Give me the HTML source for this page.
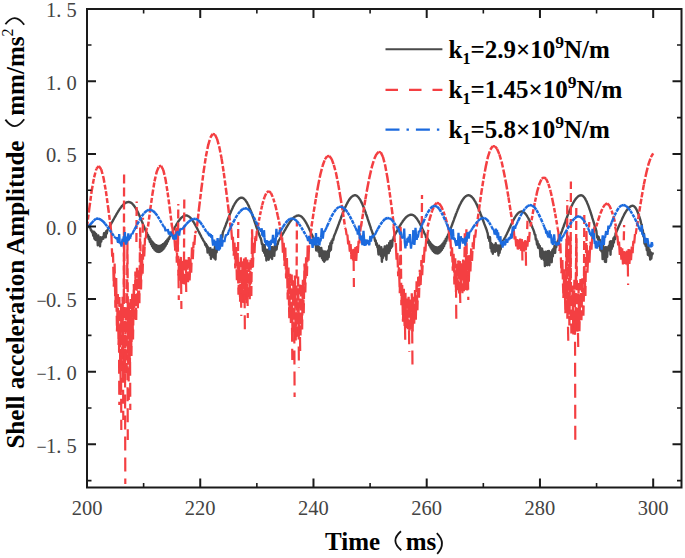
<!DOCTYPE html>
<html><head><meta charset="utf-8">
<style>
html,body{margin:0;padding:0;background:#fff;}
body{width:685px;height:558px;overflow:hidden;}
svg{display:block;}
.tk{font-family:"Liberation Serif",serif;font-size:20.5px;fill:#444;}
.tt{font-family:"Liberation Serif",serif;font-weight:bold;font-size:25px;fill:#000;}
.lg{font-family:"Liberation Serif",serif;font-weight:bold;font-size:25px;fill:#000;}
</style></head>
<body>
<svg width="685" height="558" viewBox="0 0 685 558">
<rect width="685" height="558" fill="#fff"/>
<svg x="0" y="0" width="685" height="558"><clipPath id="cp"><rect x="87" y="9" width="594.5" height="478.5"/></clipPath><g clip-path="url(#cp)"><g fill="none" stroke-linejoin="round">
<path d="M87 226.5 L87.6 226.6 L88.1 226.7 L88.7 227 L89.3 227.3 L89.8 227.7 L90.4 228.3 L91 230.4 L91.5 230.3 L92.1 232.2 L92.7 231.6 L93.2 235.7 L93.8 231.6 L94.4 238.7 L94.9 232.8 L95.5 240 L96.1 233.9 L96.6 238.9 L97.2 236.2 L97.8 245.3 L98.3 235.4 L98.9 241 L99.5 237.6 L100 246.4 L100.6 237.2 L101.2 241.6 L101.7 238.3 L102.3 238.3 L102.8 236.9 L103.4 238.7 L104 233.3 L104.5 236.1 L105.1 232.7 L105.7 237.4 L106.2 231.1 L106.8 233.5 L107.4 230.2 L107.9 229.3 L108.5 228.1 L109.1 227.2 L109.6 226.3 L110.2 225.3 L110.8 224.4 L111.3 223.4 L111.9 222.4 L112.5 221.4 L113 220.4 L113.6 219.4 L114.2 218.3 L114.7 217.3 L115.3 216.3 L115.9 215.3 L116.4 214.3 L117 213.3 L117.6 212.4 L118.1 211.5 L118.7 210.6 L119.3 209.7 L119.8 208.9 L120.4 208.1 L121 207.3 L121.5 206.6 L122.1 205.9 L122.7 205.3 L123.2 204.7 L123.8 204.2 L124.4 203.7 L124.9 203.3 L125.5 202.9 L126.1 202.6 L126.6 202.4 L127.2 202.2 L127.8 202.1 L128.3 202 L128.9 202 L129.5 202.1 L130 202.3 L130.6 202.5 L131.1 202.8 L131.7 203.2 L132.3 203.7 L132.8 204.3 L133.4 204.9 L134 205.7 L134.5 206.4 L135.1 207.3 L135.7 208.2 L136.2 209.2 L136.8 210.2 L137.4 211.3 L137.9 212.4 L138.5 213.6 L139.1 214.8 L139.6 216.1 L140.2 217.4 L140.8 218.7 L141.3 220.1 L141.9 221.5 L142.5 222.8 L143 224.2 L143.6 225.6 L144.2 227 L144.7 228.4 L145.3 229.8 L145.9 231.2 L146.4 233 L147 232.9 L147.6 236.3 L148.1 235 L148.7 239.2 L149.3 237 L149.8 241.8 L150.4 238.9 L151 244.2 L151.5 240.6 L152.1 246.3 L152.7 242.2 L153.2 248.1 L153.8 243.5 L154.4 249.6 L154.9 244.5 L155.5 250.7 L156.1 245.3 L156.6 251.5 L157.2 245.8 L157.8 251.9 L158.3 246 L158.9 252 L159.4 245.9 L160 251.7 L160.6 245.6 L161.1 251.1 L161.7 245.1 L162.3 250.2 L162.8 244.3 L163.4 249 L164 243.4 L164.5 247.5 L165.1 242.2 L165.7 245.7 L166.2 241 L166.8 243.8 L167.4 239.5 L167.9 241.5 L168.5 238.1 L169.1 239 L169.6 236.7 L170.2 236.1 L170.8 235.1 L171.3 234 L171.9 232.9 L172.5 231.8 L173 230.8 L173.6 229.7 L174.2 228.6 L174.7 227.6 L175.3 226.5 L175.9 225.5 L176.4 224.6 L177 223.6 L177.6 222.7 L178.1 221.8 L178.7 221 L179.3 220.2 L179.8 219.5 L180.4 218.8 L181 218.2 L181.5 217.6 L182.1 217.1 L182.7 216.7 L183.2 216.3 L183.8 216 L184.4 215.8 L184.9 215.6 L185.5 215.5 L186.1 215.5 L186.6 215.5 L187.2 215.7 L187.7 215.9 L188.3 216.2 L188.9 216.5 L189.4 216.9 L190 217.4 L190.6 218 L191.1 218.6 L191.7 219.3 L192.3 220.1 L192.8 220.9 L193.4 221.8 L194 222.7 L194.5 223.6 L195.1 224.6 L195.7 225.7 L196.2 226.7 L196.8 227.8 L197.4 228.9 L197.9 230 L198.5 231.2 L199.1 232.3 L199.6 233.4 L200.2 234.5 L200.8 235.6 L201.3 236.7 L201.9 237.8 L202.5 238.8 L203 239.8 L203.6 240.8 L204.2 241.7 L204.7 242.6 L205.3 245 L205.9 243.8 L206.4 246.9 L207 245.3 L207.6 252.6 L208.1 247.2 L208.7 252.3 L209.3 248.8 L209.8 254.9 L210.4 248.1 L211 258.9 L211.5 250.4 L212.1 254.3 L212.7 249.6 L213.2 256.9 L213.8 250.8 L214.4 258.3 L214.9 246.7 L215.5 259.5 L216 244.6 L216.6 252.4 L217.2 246.4 L217.7 247.9 L218.3 243.1 L218.9 244.6 L219.4 241.6 L220 246.5 L220.6 238.7 L221.1 242.8 L221.7 235.2 L222.3 237 L222.8 232.6 L223.4 231 L224 229.6 L224.5 228.1 L225.1 226.7 L225.7 225.2 L226.2 223.7 L226.8 222.2 L227.4 220.7 L227.9 219.2 L228.5 217.7 L229.1 216.3 L229.6 214.8 L230.2 213.4 L230.8 212.1 L231.3 210.7 L231.9 209.5 L232.5 208.2 L233 207 L233.6 205.9 L234.2 204.8 L234.7 203.8 L235.3 202.9 L235.9 202 L236.4 201.2 L237 200.5 L237.6 199.8 L238.1 199.3 L238.7 198.8 L239.3 198.4 L239.8 198.1 L240.4 197.9 L241 197.7 L241.5 197.7 L242.1 197.8 L242.7 197.9 L243.2 198.2 L243.8 198.6 L244.3 199.1 L244.9 199.6 L245.5 200.3 L246 201.1 L246.6 202 L247.2 202.9 L247.7 204 L248.3 205.1 L248.9 206.3 L249.4 207.6 L250 209 L250.6 210.4 L251.1 211.8 L251.7 213.3 L252.3 214.9 L252.8 216.5 L253.4 218.1 L254 219.7 L254.5 221.4 L255.1 223.1 L255.7 224.7 L256.2 226.4 L256.8 228 L257.4 229.7 L257.9 231.3 L258.5 232.8 L259.1 234.3 L259.6 235.8 L260.2 237.3 L260.8 238.6 L261.3 240.3 L261.9 244.1 L262.5 243.8 L263 250.8 L263.6 245.2 L264.2 252.8 L264.7 245.3 L265.3 255.9 L265.9 249.4 L266.4 260.5 L267 251.4 L267.6 255.4 L268.1 249.6 L268.7 259.7 L269.3 247.7 L269.8 257.6 L270.4 248.3 L271 253.8 L271.5 247.3 L272.1 259 L272.6 247.1 L273.2 253 L273.8 247.4 L274.3 255.9 L274.9 245 L275.5 250.4 L276 245.3 L276.6 249.3 L277.2 244 L277.7 244.2 L278.3 241.3 L278.9 240.5 L279.4 239.6 L280 238.7 L280.6 237.7 L281.1 236.7 L281.7 235.8 L282.3 234.8 L282.8 233.8 L283.4 232.8 L284 231.8 L284.5 230.8 L285.1 229.8 L285.7 228.8 L286.2 227.8 L286.8 226.8 L287.4 225.9 L287.9 225 L288.5 224.1 L289.1 223.2 L289.6 222.4 L290.2 221.6 L290.8 220.8 L291.3 220.1 L291.9 219.5 L292.5 218.8 L293 218.3 L293.6 217.7 L294.2 217.2 L294.7 216.8 L295.3 216.5 L295.9 216.2 L296.4 215.9 L297 215.7 L297.6 215.6 L298.1 215.5 L298.7 215.5 L299.2 215.6 L299.8 215.7 L300.4 216 L300.9 216.3 L301.5 216.7 L302.1 217.2 L302.6 217.8 L303.2 218.4 L303.8 219.2 L304.3 219.9 L304.9 220.8 L305.5 221.7 L306 222.7 L306.6 223.7 L307.2 224.8 L307.7 225.9 L308.3 227 L308.9 228.2 L309.4 229.4 L310 230.6 L310.6 231.8 L311.1 233 L311.7 234.3 L312.3 235.5 L312.8 236.7 L313.4 237.9 L314 239 L314.5 240.2 L315.1 244.3 L315.7 242.6 L316.2 250.5 L316.8 246.8 L317.4 249.2 L317.9 245.6 L318.5 252 L319.1 247.3 L319.6 256.2 L320.2 250.3 L320.8 255.7 L321.3 248 L321.9 258.3 L322.5 250.6 L323 260.3 L323.6 254.2 L324.2 261.7 L324.7 251.4 L325.3 260.4 L325.9 251.7 L326.4 253.7 L327 252 L327.5 259.3 L328.1 250.4 L328.7 257.2 L329.2 246.3 L329.8 251.2 L330.4 243.2 L330.9 249.8 L331.5 241.1 L332.1 243.1 L332.6 239.3 L333.2 239.9 L333.8 236.9 L334.3 235.5 L334.9 234.1 L335.5 232.7 L336 231.3 L336.6 229.8 L337.2 228.3 L337.7 226.8 L338.3 225.2 L338.9 223.7 L339.4 222.1 L340 220.6 L340.6 219.1 L341.1 217.5 L341.7 216 L342.3 214.5 L342.8 213.1 L343.4 211.7 L344 210.3 L344.5 208.9 L345.1 207.6 L345.7 206.3 L346.2 205.1 L346.8 204 L347.4 202.9 L347.9 201.8 L348.5 200.9 L349.1 200 L349.6 199.1 L350.2 198.4 L350.8 197.7 L351.3 197.1 L351.9 196.6 L352.5 196.2 L353 195.8 L353.6 195.6 L354.2 195.4 L354.7 195.3 L355.3 195.3 L355.8 195.4 L356.4 195.6 L357 196 L357.5 196.4 L358.1 197 L358.7 197.6 L359.2 198.4 L359.8 199.2 L360.4 200.2 L360.9 201.2 L361.5 202.4 L362.1 203.6 L362.6 204.8 L363.2 206.2 L363.8 207.6 L364.3 209.1 L364.9 210.6 L365.5 212.2 L366 213.8 L366.6 215.5 L367.2 217.2 L367.7 218.9 L368.3 220.6 L368.9 222.3 L369.4 224 L370 225.7 L370.6 227.4 L371.1 229.1 L371.7 230.7 L372.3 232.3 L372.8 233.8 L373.4 235.3 L374 236.8 L374.5 237.9 L375.1 241.1 L375.7 240.4 L376.2 244.9 L376.8 243.3 L377.4 247.2 L377.9 247.6 L378.5 254.5 L379.1 245.7 L379.6 253.3 L380.2 247.8 L380.8 255.8 L381.3 247.1 L381.9 261.8 L382.5 252.7 L383 257.9 L383.6 249.3 L384.1 253.4 L384.7 246.5 L385.3 255.7 L385.8 246.9 L386.4 259.8 L387 245.4 L387.5 250 L388.1 248.7 L388.7 253.1 L389.2 243 L389.8 250.9 L390.4 241 L390.9 248 L391.5 243 L392.1 246.5 L392.6 239.7 L393.2 239.9 L393.8 236.8 L394.3 235.7 L394.9 234.7 L395.5 233.7 L396 232.7 L396.6 231.7 L397.2 230.7 L397.7 229.7 L398.3 228.7 L398.9 227.7 L399.4 226.7 L400 225.7 L400.6 224.7 L401.1 223.8 L401.7 222.9 L402.3 222.1 L402.8 221.2 L403.4 220.4 L404 219.7 L404.5 219 L405.1 218.3 L405.7 217.7 L406.2 217.2 L406.8 216.6 L407.4 216.2 L407.9 215.8 L408.5 215.5 L409.1 215.2 L409.6 215 L410.2 214.8 L410.8 214.7 L411.3 214.7 L411.9 214.7 L412.4 214.9 L413 215.1 L413.6 215.4 L414.1 215.8 L414.7 216.2 L415.3 216.8 L415.8 217.4 L416.4 218.1 L417 218.8 L417.5 219.7 L418.1 220.6 L418.7 221.5 L419.2 222.5 L419.8 223.5 L420.4 224.6 L420.9 225.8 L421.5 226.9 L422.1 228.1 L422.6 229.3 L423.2 230.5 L423.8 231.8 L424.3 233 L424.9 234.2 L425.5 234.9 L426 237.6 L426.6 236.7 L427.2 240.4 L427.7 238.6 L428.3 243.1 L428.9 240.4 L429.4 245.5 L430 242.1 L430.6 247.6 L431.1 243.6 L431.7 249.4 L432.3 244.9 L432.8 250.9 L433.4 246 L434 252.1 L434.5 246.8 L435.1 253 L435.7 247.3 L436.2 253.4 L436.8 247.5 L437.4 253.5 L437.9 247.4 L438.5 253.2 L439.1 247 L439.6 252.5 L440.2 246.3 L440.7 251.4 L441.3 245.3 L441.9 249.9 L442.4 244 L443 248.1 L443.6 242.4 L444.1 246 L444.7 240.7 L445.3 243.5 L445.8 238.7 L446.4 240.8 L447 236.6 L447.5 237.7 L448.1 234.4 L448.7 234.3 L449.2 232.4 L449.8 230.9 L450.4 229.4 L450.9 227.9 L451.5 226.3 L452.1 224.8 L452.6 223.2 L453.2 221.7 L453.8 220.1 L454.3 218.6 L454.9 217 L455.5 215.5 L456 214 L456.6 212.6 L457.2 211.1 L457.7 209.7 L458.3 208.4 L458.9 207.1 L459.4 205.8 L460 204.6 L460.6 203.5 L461.1 202.4 L461.7 201.4 L462.3 200.5 L462.8 199.6 L463.4 198.8 L464 198.1 L464.5 197.4 L465.1 196.9 L465.7 196.4 L466.2 196 L466.8 195.7 L467.4 195.5 L467.9 195.3 L468.5 195.3 L469 195.3 L469.6 195.5 L470.2 195.7 L470.7 196 L471.3 196.5 L471.9 197 L472.4 197.6 L473 198.2 L473.6 199 L474.1 199.8 L474.7 200.8 L475.3 201.7 L475.8 202.8 L476.4 203.9 L477 205.1 L477.5 206.4 L478.1 207.7 L478.7 209 L479.2 210.4 L479.8 211.8 L480.4 213.3 L480.9 214.8 L481.5 216.3 L482.1 217.8 L482.6 219.3 L483.2 220.8 L483.8 222.4 L484.3 223.9 L484.9 225.4 L485.5 226.9 L486 228.3 L486.6 229.7 L487.2 231.9 L487.7 233.4 L488.3 238.1 L488.9 236.7 L489.4 241.1 L490 237.3 L490.6 248.1 L491.1 242.9 L491.7 251.6 L492.3 244.1 L492.8 253.8 L493.4 245.4 L494 249.7 L494.5 245.3 L495.1 251.9 L495.7 243.3 L496.2 249.1 L496.8 245.1 L497.3 251 L497.9 247.1 L498.5 255.5 L499 245.4 L499.6 252.9 L500.2 246.2 L500.7 249.5 L501.3 243.1 L501.9 243 L502.4 241.5 L503 240.8 L503.6 239.9 L504.1 239 L504.7 238 L505.3 237 L505.8 235.9 L506.4 234.8 L507 233.6 L507.5 232.5 L508.1 231.3 L508.7 230.1 L509.2 228.8 L509.8 227.6 L510.4 226.4 L510.9 225.1 L511.5 223.9 L512.1 222.8 L512.6 221.6 L513.2 220.5 L513.8 219.4 L514.3 218.4 L514.9 217.5 L515.5 216.5 L516 215.7 L516.6 214.9 L517.2 214.2 L517.7 213.6 L518.3 213 L518.9 212.6 L519.4 212.2 L520 211.9 L520.6 211.7 L521.1 211.5 L521.7 211.5 L522.3 211.6 L522.8 211.7 L523.4 212 L524 212.4 L524.5 212.8 L525.1 213.4 L525.6 214 L526.2 214.8 L526.8 215.6 L527.3 216.5 L527.9 217.5 L528.5 218.5 L529 219.7 L529.6 220.8 L530.2 222.1 L530.7 223.4 L531.3 224.7 L531.9 226.1 L532.4 227.5 L533 228.9 L533.6 230.4 L534.1 231.8 L534.7 234.5 L535.3 234.7 L535.8 239.7 L536.4 239.1 L537 244.6 L537.5 241.1 L538.1 247.7 L538.7 244.2 L539.2 248.4 L539.8 245.8 L540.4 256.8 L540.9 248.2 L541.5 258.7 L542.1 248.7 L542.6 257 L543.2 251.5 L543.8 259.9 L544.3 252.6 L544.9 266.1 L545.5 251.6 L546 262.5 L546.6 254.5 L547.2 265.2 L547.7 251.1 L548.3 260.5 L548.9 250.9 L549.4 265.3 L550 252.9 L550.6 258.8 L551.1 252.1 L551.7 262.3 L552.3 250.3 L552.8 256.4 L553.4 248.6 L553.9 252.8 L554.5 245.8 L555.1 252.8 L555.6 245.4 L556.2 247.3 L556.8 243.5 L557.3 242.3 L557.9 241 L558.5 239.7 L559 238.3 L559.6 237 L560.2 235.5 L560.7 234.1 L561.3 232.6 L561.9 231.1 L562.4 229.6 L563 228 L563.6 226.5 L564.1 225 L564.7 223.4 L565.3 221.9 L565.8 220.3 L566.4 218.8 L567 217.3 L567.5 215.8 L568.1 214.3 L568.7 212.9 L569.2 211.5 L569.8 210.1 L570.4 208.8 L570.9 207.5 L571.5 206.3 L572.1 205.1 L572.6 204 L573.2 202.9 L573.8 201.9 L574.3 201 L574.9 200.1 L575.5 199.3 L576 198.5 L576.6 197.9 L577.2 197.3 L577.7 196.7 L578.3 196.3 L578.9 195.9 L579.4 195.7 L580 195.5 L580.6 195.3 L581.1 195.3 L581.7 195.4 L582.2 195.6 L582.8 195.9 L583.4 196.4 L583.9 197 L584.5 197.7 L585.1 198.6 L585.6 199.6 L586.2 200.7 L586.8 201.9 L587.3 203.2 L587.9 204.6 L588.5 206.1 L589 207.6 L589.6 209.3 L590.2 210.9 L590.7 212.7 L591.3 214.5 L591.9 216.3 L592.4 218.1 L593 220 L593.6 221.9 L594.1 223.7 L594.7 225.6 L595.3 227.4 L595.8 229.2 L596.4 231.1 L597 237.5 L597.5 235.8 L598.1 239.6 L598.7 237.2 L599.2 244.1 L599.8 239.8 L600.4 250.1 L600.9 242.1 L601.5 251.5 L602.1 243.1 L602.6 259.1 L603.2 245.7 L603.8 255.7 L604.3 248 L604.9 261.7 L605.5 247.2 L606 262 L606.6 247.5 L607.2 256.9 L607.7 247.1 L608.3 249.9 L608.9 245.6 L609.4 250.4 L610 241.7 L610.5 254.8 L611.1 241.3 L611.7 249 L612.2 242.2 L612.8 246.5 L613.4 238.3 L613.9 242.6 L614.5 236.7 L615.1 239.2 L615.6 233.3 L616.2 232.2 L616.8 231 L617.3 229.7 L617.9 228.4 L618.5 227.1 L619 225.8 L619.6 224.5 L620.2 223.2 L620.7 221.9 L621.3 220.7 L621.9 219.4 L622.4 218.2 L623 217 L623.6 215.8 L624.1 214.7 L624.7 213.7 L625.3 212.7 L625.8 211.7 L626.4 210.8 L627 210 L627.5 209.2 L628.1 208.5 L628.7 207.9 L629.2 207.4 L629.8 206.9 L630.4 206.5 L630.9 206.2 L631.5 206 L632.1 205.9 L632.6 205.8 L633.2 205.9 L633.8 206.1 L634.3 206.5 L634.9 207.1 L635.5 207.8 L636 208.7 L636.6 209.8 L637.2 211 L637.7 212.3 L638.3 213.8 L638.8 215.3 L639.4 217 L640 218.8 L640.5 220.6 L641.1 223.6 L641.7 224.4 L642.2 229.6 L642.8 230.1 L643.4 236.5 L643.9 233.7 L644.5 243.7 L645.1 239.5 L645.6 245.8 L646.2 241.8 L646.8 250.2 L647.3 244.7 L647.9 254.9 L648.5 247.2 L649 255.6 L649.6 249.6 L650.2 259.6 L650.7 252.1 L651.3 258.6 L651.9 253.4 L652.4 254.2 L653 252.3" stroke="#4a4a4a" stroke-width="2.4"/>
<path d="M87 226.5L89.4 207.7M89.4 207.7L91.7 190.7M91.7 190.7L94.1 177.3M94.1 177.3L96.4 168.8M96.4 168.8L98.8 166M98.8 166L101.2 169.2M101.2 169.2L103.5 177.8M103.5 177.8L105.9 191.2M105.9 191.2L108.2 208M108.2 208L110.6 226.5" stroke="#f43f42" stroke-width="2.5" stroke-dasharray="5 2"/>
<path d="M148 226.5L150.2 209.8M150.2 209.8L152.4 194.4M152.4 194.4L154.5 181.4M154.5 181.4L156.7 171.9M156.7 171.9L158.9 166.5M158.9 166.5L161.1 165.7M161.1 165.7L163.3 170M163.3 170L165.5 179.2M165.5 179.2L167.6 192.5M167.6 192.5L169.8 208.7M169.8 208.7L172 226.5" stroke="#f43f42" stroke-width="2.5" stroke-dasharray="5 2"/>
<path d="M197 226.5L199.2 206.8M199.2 206.8L201.5 188M201.5 188L203.7 171M203.7 171L205.9 156.4M205.9 156.4L208.2 145.1M208.2 145.1L210.4 137.5M210.4 137.5L212.6 134M212.6 134L214.9 134.5M214.9 134.5L217.1 139M217.1 139L219.3 147.1M219.3 147.1L221.6 158.6M221.6 158.6L223.8 172.9M223.8 172.9L226 189.5M226 189.5L228.3 207.6M228.3 207.6L230.5 226.5" stroke="#f43f42" stroke-width="2.5" stroke-dasharray="5.5 2"/>
<path d="M257.8 226.5L260 215.1M260 215.1L262.2 205M262.2 205L264.5 197.1M264.5 197.1L266.7 192.3M266.7 192.3L268.9 191.1M268.9 191.1L271.1 193.2M271.1 193.2L273.3 198.5M273.3 198.5L275.6 206.3M275.6 206.3L277.8 215.9M277.8 215.9L280 226.5" stroke="#f43f42" stroke-width="2.5" stroke-dasharray="4 1.8"/>
<path d="M311.5 226.5L313.7 211.9M313.7 211.9L316 197.9M316 197.9L318.2 185.2M318.2 185.2L320.4 174.2M320.4 174.2L322.7 165.5M322.7 165.5L324.9 159.4M324.9 159.4L327.1 156.2M327.1 156.2L329.4 156M329.4 156L331.6 158.9M331.6 158.9L333.8 164.9M333.8 164.9L336.1 173.5M336.1 173.5L338.3 184.6M338.3 184.6L340.5 197.5M340.5 197.5L342.8 211.6M342.8 211.6L345 226.5" stroke="#f43f42" stroke-width="2.5" stroke-dasharray="5.5 2"/>
<path d="M361 226.5L363.2 212.6M363.2 212.6L365.4 199.2M365.4 199.2L367.6 186.7M367.6 186.7L369.8 175.7M369.8 175.7L372 166.4M372 166.4L374.2 159.1M374.2 159.1L376.4 154.3M376.4 154.3L378.6 151.9M378.6 151.9L380.8 152.4M380.8 152.4L383 157M383 157L385.2 165.5M385.2 165.5L387.4 177.5M387.4 177.5L389.6 192.2M389.6 192.2L391.8 208.8M391.8 208.8L394 226.5" stroke="#f43f42" stroke-width="2.5" stroke-dasharray="5.5 2"/>
<path d="M427.6 226.5L429.9 218.1M429.9 218.1L432.1 210.8M432.1 210.8L434.4 205.5M434.4 205.5L436.7 202.9M436.7 202.9L438.9 203.2M438.9 203.2L441.2 206.3M441.2 206.3L443.5 211.6M443.5 211.6L445.7 218.6M445.7 218.6L448 226.5" stroke="#f43f42" stroke-width="2.5" stroke-dasharray="4 1.8"/>
<path d="M476.7 226.5L479 209.7M479 209.7L481.2 193.6M481.2 193.6L483.5 179M483.5 179L485.8 166.5M485.8 166.5L488 156.6M488 156.6L490.3 149.7M490.3 149.7L492.6 146.2M492.6 146.2L494.9 146.2M494.9 146.2L497.1 148.9M497.1 148.9L499.4 154.3M499.4 154.3L501.7 162.1M501.7 162.1L503.9 172.2M503.9 172.2L506.2 184M506.2 184L508.5 197.4M508.5 197.4L510.7 211.7M510.7 211.7L513 226.5" stroke="#f43f42" stroke-width="2.5" stroke-dasharray="5.5 2"/>
<path d="M530.5 226.5L532.7 213.7M532.7 213.7L535 201.8M535 201.8L537.2 191.5M537.2 191.5L539.5 183.7M539.5 183.7L541.7 178.8M541.7 178.8L544 177.2M544 177.2L546.2 178.9M546.2 178.9L548.4 183.9M548.4 183.9L550.7 191.7M550.7 191.7L552.9 201.9M552.9 201.9L555.2 213.8M555.2 213.8L557.4 226.5" stroke="#f43f42" stroke-width="2.5" stroke-dasharray="4.5 1.8"/>
<path d="M596.3 226.5L598.5 219.2M598.5 219.2L600.7 212.7M600.7 212.7L602.9 207.6M602.9 207.6L605.1 204.4M605.1 204.4L607.2 203.5M607.2 203.5L609.4 205.5M609.4 205.5L611.6 210.6M611.6 210.6L613.8 217.9M613.8 217.9L616 226.5" stroke="#f43f42" stroke-width="2.5" stroke-dasharray="4 1.8"/>
<path d="M637 226.5L639.3 211.6M639.3 211.6L641.6 197.4M641.6 197.4L643.9 184.3M643.9 184.3L646.3 173M646.3 173L648.6 163.8M648.6 163.8L650.9 157.2M650.9 157.2L653.2 153.4" stroke="#f43f42" stroke-width="2.5" stroke-dasharray="5.5 2"/>
<path d="M110.6 225.8L111.4 234.3M111.4 234.3L111.9 248.7M111.9 248.7L112.2 256.7M112.2 256.7L113 252.7M113 252.7L113.4 271.2M113.4 271.2L113.8 286.7M113.8 286.7L114.1 276.7M114.1 276.7L114.6 263.6M114.6 263.6L115 286.2M115 286.2L115.4 307.7M115.4 307.7L115.6 300.2M115.6 300.2L116.2 278M116.2 278L116.3 287.7M116.3 287.7L117 331.4M117 331.4L117.7 299.6M117.7 299.6L117.8 293.9M117.8 293.9L118.1 315M118.1 315L118.6 345M118.6 345L118.8 334.2M118.8 334.2L119.4 296.9M119.4 296.9L119.9 335.1M119.9 335.1L120.2 361.3M120.2 361.3L120.8 320.7M120.8 320.7L121 303.4M121 303.4L121.2 321M121.2 321L121.8 371.2M121.8 371.2L122.3 328.9M122.3 328.9L122.6 296.8M122.6 296.8L122.9 327M122.9 327L123.4 374M123.4 374L123.8 298.5M123.8 298.5L124.2 227M124.2 227L124.3 251.1M124.3 251.1L125 373.7M125 373.7L125.1 362.4M125.1 362.4L125.8 308.5M125.8 308.5L126.5 363.1M126.5 363.1L126.6 373.3M126.6 373.3L127.2 272.7M127.2 272.7L127.4 240.3M127.4 240.3L127.8 301.3M127.8 301.3L128.2 364.7M128.2 364.7L128.6 330.6M128.6 330.6L129 302.4M129 302.4L129.3 324.2M129.3 324.2L129.8 368M129.8 368L130.4 319.9M130.4 319.9L130.6 298.9M130.6 298.9L131 324.4M131 324.4L131.4 355.9M131.4 355.9L132.1 305.4M132.1 305.4L132.2 293.7M132.2 293.7L132.7 325.1M132.7 325.1L133 339.4M133 339.4L133.6 299.4M133.6 299.4L133.8 284M133.8 284L134.5 313.4M134.5 313.4L134.6 319.6M134.6 319.6L134.9 303.9M134.9 303.9L135.4 271.6M135.4 271.6L135.5 280.1M135.5 280.1L136.2 320M136.2 320L136.4 304.8M136.4 304.8L137 267.8M137 267.8L137.2 279M137.2 279L137.8 308.3M137.8 308.3L138 300.4M138 300.4L138.6 270.3M138.6 270.3L138.7 276.5M138.7 276.5L139.4 303.3M139.4 303.3L139.8 262.3M139.8 262.3L140.2 227.5M140.2 227.5L140.8 274.5M140.8 274.5L141 289.4M141 289.4L141.4 272.7M141.4 272.7L141.8 253.9M141.8 253.9L142.5 269.9M142.5 269.9L142.6 273.6M142.6 273.6L143.2 250.7M143.2 250.7L143.4 244.5M143.4 244.5L144.2 256.4M144.2 256.4L144.7 245.8M144.7 245.8L145 237.9M145 237.9L145.8 238.5M145.8 238.5L146.6 229M146.6 229L147.4 228.1M172 226L172.8 230.2M172.8 230.2L173.6 239.1M173.6 239.1L174.4 237.8M174.4 237.8L175.1 248.3M175.1 248.3L175.2 250.6M175.2 250.6L175.7 236.3M175.7 236.3L176 227.5M176 227.5L176.3 242.5M176.3 242.5L176.8 262.8M176.8 262.8L177.2 247.5M177.2 247.5L177.6 229.8M177.6 229.8L177.8 241.8M177.8 241.8L178.4 275.5M178.4 275.5L179.1 261.7M179.1 261.7L179.2 258.8M179.2 258.8L179.9 277.3M179.9 277.3L180 280.7M180 280.7L180.2 273.4M180.2 273.4L180.8 256.9M180.8 256.9L180.9 261.5M180.9 261.5L181.6 282.8M181.6 282.8L181.9 275.6M181.9 275.6L182.4 261M182.4 261L182.7 270.1M182.7 270.1L183.2 284.1M183.2 284.1L183.8 265.1M183.8 265.1L184 259.8M184 259.8L184.6 279.2M184.6 279.2L184.8 284.5M184.8 284.5L185.4 266.1M185.4 266.1L185.6 259.5M185.6 259.5L185.7 263.5M185.7 263.5L186.4 281.5M186.4 281.5L187 266.3M187 266.3L187.2 259.8M187.2 259.8L187.7 274.3M187.7 274.3L188 282.2M188 282.2L188.5 267.1M188.5 267.1L188.8 257.1M188.8 257.1L189.5 276.7M189.5 276.7L189.6 280.5M189.6 280.5L189.8 276.3M189.8 276.3L190.4 258.4M190.4 258.4L190.6 262M190.6 262L191.2 272.7M191.2 272.7L191.7 255.5M191.7 255.5L192 247.4M192 247.4L192.8 259.3M192.8 259.3L193.3 248.5M193.3 248.5L193.6 241.9M193.6 241.9L194.4 244.9M194.4 244.9L195.2 233.4M195.2 233.4L196 230.8M230.5 226L231.3 229.6M231.3 229.6L232.1 240.1M232.1 240.1L232.9 236.8M232.9 236.8L233.1 241.2M233.1 241.2L233.7 255.6M233.7 255.6L234.1 249.3M234.1 249.3L234.5 242.6M234.5 242.6L234.7 249.5M234.7 249.5L235.3 268.5M235.3 268.5L235.6 261.7M235.6 261.7L236.1 247M236.1 247L236.3 255.3M236.3 255.3L236.9 280.2M236.9 280.2L237.4 263.1M237.4 263.1L237.7 252.9M237.7 252.9L237.8 259.5M237.8 259.5L238.5 294.8M238.5 294.8L239 273.3M239 273.3L239.3 261.8M239.3 261.8L239.5 273.2M239.5 273.2L240.1 301.7M240.1 301.7L240.2 293.9M240.2 293.9L240.9 257.2M240.9 257.2L241.5 292.8M241.5 292.8L241.7 301.7M241.7 301.7L241.9 289.4M241.9 289.4L242.5 261.3M242.5 261.3L243.1 294.8M243.1 294.8L243.3 303M243.3 303L243.9 269.4M243.9 269.4L244.1 258.5M244.1 258.5L244.7 290.5M244.7 290.5L244.9 299.9M244.9 299.9L245.1 289.3M245.1 289.3L245.7 257.2M245.7 257.2L246.1 278.5M246.1 278.5L246.5 303.3M246.5 303.3L246.7 293.7M246.7 293.7L247.3 259.4M247.3 259.4L247.9 289.5M247.9 289.5L248.1 297.1M248.1 297.1L248.7 271.2M248.7 271.2L248.9 262.1M248.9 262.1L249.4 284M249.4 284L249.7 299.2M249.7 299.2L250.1 280.8M250.1 280.8L250.5 259.8M250.5 259.8L250.8 273.8M250.8 273.8L251.3 296M251.3 296L251.9 247.5M251.9 247.5L252.1 229.2M252.1 229.2L252.5 247.7M252.5 247.7L252.9 267.4M252.9 267.4L253.4 252.8M253.4 252.8L253.7 242.6M253.7 242.6L254.5 252.9M254.5 252.9L254.7 247.7M254.7 247.7L255.3 236M255.3 236L256.1 240.9M256.1 240.9L256.9 230.3M256.9 230.3L257.7 230.1M279.7 227.2L280.5 230.1M280.5 230.1L281.3 239.6M281.3 239.6L282.1 237.3M282.1 237.3L282.5 244.1M282.5 244.1L282.9 252.8M282.9 252.8L283.7 242.9M283.7 242.9L284 250.8M284 250.8L284.5 266M284.5 266L285.1 252.4M285.1 252.4L285.3 247.5M285.3 247.5L285.6 259.4M285.6 259.4L286.1 278.4M286.1 278.4L286.3 272.9M286.3 272.9L286.9 258M286.9 258L287.3 278.5M287.3 278.5L287.7 299.6M287.7 299.6L288 287.6M288 287.6L288.5 267.5M288.5 267.5L289.1 307.2M289.1 307.2L289.3 318.3M289.3 318.3L289.5 308M289.5 308L290.1 273.7M290.1 273.7L290.8 314.9M290.8 314.9L290.9 323M290.9 323L291.1 313.8M291.1 313.8L291.7 274.6M291.7 274.6L292.3 319.1M292.3 319.1L292.5 331.8M292.5 331.8L293 300M293 300L293.3 280.2M293.3 280.2L293.5 295.7M293.5 295.7L294.1 332.2M294.1 332.2L294.5 304.8M294.5 304.8L294.9 275.5M294.9 275.5L295.2 298.2M295.2 298.2L295.7 340.4M295.7 340.4L296 322.2M296 322.2L296.5 285.5M296.5 285.5L296.7 300.4M296.7 300.4L297.3 336.8M297.3 336.8L297.6 312.3M297.6 312.3L298.1 276.4M298.1 276.4L298.8 327.2M298.8 327.2L298.9 336.6M298.9 336.6L299.6 292.5M299.6 292.5L299.7 284.6M299.7 284.6L300.3 325.3M300.3 325.3L300.5 335.6M300.5 335.6L300.7 324.5M300.7 324.5L301.3 284.9M301.3 284.9L301.6 300.6M301.6 300.6L302.1 329.4M302.1 329.4L302.7 290.7M302.7 290.7L302.9 279.7M302.9 279.7L303.1 286.1M303.1 286.1L303.7 313.3M303.7 313.3L304.2 280.5M304.2 280.5L304.5 263.5M304.5 263.5L304.8 273.8M304.8 273.8L305.3 292.5M305.3 292.5L306 263.1M306 263.1L306.1 257.3M306.1 257.3L306.2 260.3M306.2 260.3L306.9 276.1M306.9 276.1L307.5 254.2M307.5 254.2L307.7 245.5M307.7 245.5L308 251.4M308 251.4L308.5 260.7M308.5 260.7L308.7 255.2M308.7 255.2L309.3 238.9M309.3 238.9L310.1 243.9M310.1 243.9L310.7 234.8M310.7 234.8L310.9 231.5M310.9 231.5L311.7 228.6M345 227.8L345.8 229.2M345.8 229.2L346.6 235.1M346.6 235.1L347.4 234.5M347.4 234.5L348.2 244.6M348.2 244.6L349 240.6M349 240.6L349.8 251.9M349.8 251.9L350.6 244.1M350.6 244.1L351.2 254.4M351.2 254.4L351.4 259.1M351.4 259.1L352.2 249.1M352.2 249.1L353 260.5M353 260.5L353.8 248.6M353.8 248.6L354 251.2M354 251.2L354.6 260.9M354.6 260.9L355.1 252.9M355.1 252.9L355.4 247M355.4 247L355.8 253.9M355.8 253.9L356.2 260.9M356.2 260.9L356.5 255.9M356.5 255.9L357 246.1M357 246.1L357.8 253M357.8 253L358.3 246M358.3 246L358.6 240.8M358.6 240.8L359.4 243.3M359.4 243.3L360.2 231.5M360.2 231.5L361 225M393.4 226.4L394.2 232.1M394.2 232.1L395 243.4M395 243.4L395.8 243.1M395.8 243.1L396.1 250.4M396.1 250.4L396.6 259.8M396.6 259.8L397.4 253M397.4 253L397.6 257.4M397.6 257.4L398.2 276.3M398.2 276.3L399 267.2M399 267.2L399.3 277.2M399.3 277.2L399.8 293.2M399.8 293.2L400.4 244M400.4 244L400.6 226.7M400.6 226.7L401.2 286M401.2 286L401.4 305.2M401.4 305.2L401.8 295.2M401.8 295.2L402.2 285M402.2 285L402.3 290.9M402.3 290.9L403 321.7M403 321.7L403.6 295.8M403.6 295.8L403.8 288.8M403.8 288.8L404.2 306.9M404.2 306.9L404.6 326.1M404.6 326.1L405.2 300.9M405.2 300.9L405.4 292.9M405.4 292.9L405.7 304.7M405.7 304.7L406.2 327.9M406.2 327.9L406.4 319.6M406.4 319.6L407 298.5M407 298.5L407.6 321M407.6 321L407.8 329.2M407.8 329.2L408.1 316M408.1 316L408.6 296.9M408.6 296.9L408.8 305.8M408.8 305.8L409.4 330.6M409.4 330.6L409.7 317.8M409.7 317.8L410.2 299.4M410.2 299.4L410.7 316.5M410.7 316.5L411 329.5M411 329.5L411.1 324M411.1 324L411.8 293.3M411.8 293.3L412.2 313M412.2 313L412.6 331.5M412.6 331.5L413 315.5M413 315.5L413.4 296.7M413.4 296.7L413.8 310.4M413.8 310.4L414.2 323.6M414.2 323.6L414.4 315.7M414.4 315.7L415 290M415 290L415.5 309.3M415.5 309.3L415.8 319.7M415.8 319.7L416.4 291.9M416.4 291.9L416.6 281.2M416.6 281.2L417.2 303.2M417.2 303.2L417.4 310.4M417.4 310.4L417.7 297.8M417.7 297.8L418.2 276.7M418.2 276.7L418.7 290.4M418.7 290.4L419 297.8M419 297.8L419.3 286.1M419.3 286.1L419.8 269.8M419.8 269.8L420.3 280.1M420.3 280.1L420.6 285M420.6 285L420.8 280.2M420.8 280.2L421.4 260M421.4 260L422 271.5M422 271.5L422.2 275.1M422.2 275.1L422.9 258.6M422.9 258.6L423 254.9M423 254.9L423.8 262.8M423.8 262.8L424.2 254.7M424.2 254.7L424.6 246.9M424.6 246.9L425.4 251.4M425.4 251.4L425.8 244.9M425.8 244.9L426.2 239M426.2 239L427 240.6M427 240.6L427.8 231.8M427.8 231.8L428.6 230M448 226.5L448.8 230.4M448.8 230.4L449.6 241.8M449.6 241.8L450.4 238.6M450.4 238.6L451 251.4M451 251.4L451.2 256.3M451.2 256.3L452 247.4M452 247.4L452.2 252.4M452.2 252.4L452.8 270.6M452.8 270.6L453.3 259.8M453.3 259.8L453.6 253.7M453.6 253.7L453.8 262.5M453.8 262.5L454.4 284.5M454.4 284.5L454.5 280.3M454.5 280.3L455.2 258.3M455.2 258.3L455.7 277.4M455.7 277.4L456 291.9M456 291.9L456.4 276.2M456.4 276.2L456.8 263.6M456.8 263.6L457.2 277.4M457.2 277.4L457.6 290.3M457.6 290.3L458.1 271.1M458.1 271.1L458.4 260.4M458.4 260.4L458.6 267.7M458.6 267.7L459.2 293.5M459.2 293.5L459.8 268.9M459.8 268.9L460 261.1M460 261.1L460.5 280.8M460.5 280.8L460.8 291.3M460.8 291.3L460.9 286.2M460.9 286.2L461.6 263.3M461.6 263.3L461.8 270.4M461.8 270.4L462.4 293.2M462.4 293.2L462.8 276.5M462.8 276.5L463.2 259.6M463.2 259.6L463.6 275.5M463.6 275.5L464 291.4M464 291.4L464.3 271.3M464.3 271.3L464.8 233.2M464.8 233.2L465 246.6M465 246.6L465.6 290M465.6 290L465.9 263.6M465.9 263.6L466.4 229.2M466.4 229.2L466.6 244.3M466.6 244.3L467.2 290.5M467.2 290.5L467.7 270.6M467.7 270.6L468 255.3M468 255.3L468.6 275.1M468.6 275.1L468.8 281.7M468.8 281.7L469 275M469 275L469.6 255.1M469.6 255.1L470 264.1M470 264.1L470.4 271.4M470.4 271.4L470.9 256M470.9 256L471.2 248.4M471.2 248.4L471.4 251.7M471.4 251.7L472 260.9M472 260.9L472.6 247.4M472.6 247.4L472.8 242.3M472.8 242.3L473.6 249.1M473.6 249.1L473.9 243.1M473.9 243.1L474.4 234.9M474.4 234.9L475.2 237.6M475.2 237.6L476 229.4M513 227.7L513.8 230.6M513.8 230.6L514.6 239.5M514.6 239.5L515.4 236.4M515.4 236.4L516.2 246.4M516.2 246.4L517 239M517 239L517.8 249.6M517.8 249.6L518.6 239.5M518.6 239.5L519.4 248.9M519.4 248.9L520.2 238.7M520.2 238.7L520.8 247.4M520.8 247.4L521 250.8M521 250.8L521.8 239.1M521.8 239.1L522.6 250.2M522.6 250.2L523.4 241.3M523.4 241.3L524.2 251.6M524.2 251.6L525 240.1M525 240.1L525.8 250.2M525.8 250.2L526.6 240.6M526.6 240.6L527.4 246.7M527.4 246.7L528.2 235.8M528.2 235.8L529 241.8M529 241.8L529.8 230.2M557.4 227.2L558.4 232.4M558.4 232.4L558.6 236.1M558.6 236.1L559.4 250.9M559.4 250.9L560.4 243.4M560.4 243.4L560.9 258.4M560.9 258.4L561.4 273.2M561.4 273.2L561.6 271M561.6 271L562.4 260M562.4 260L562.6 269.4M562.6 269.4L563.4 297.9M563.4 297.9L564.2 274.1M564.2 274.1L564.4 269.2M564.4 269.2L565.1 299.7M565.1 299.7L565.4 313.2M565.4 313.2L566.2 253.2M566.2 253.2L566.4 238.8M566.4 238.8L567 286.2M567 286.2L567.4 318.8M567.4 318.8L568.1 259.1M568.1 259.1L568.4 235.5M568.4 235.5L569.2 304.7M569.2 304.7L569.4 325.4M569.4 325.4L570.2 257.6M570.2 257.6L570.4 237.2M570.4 237.2L570.6 254M570.6 254L571.4 333.5M571.4 333.5L572 304.8M572 304.8L572.4 285.6M572.4 285.6L572.7 302M572.7 302L573.4 334.5M573.4 334.5L574 300.2M574 300.2L574.4 279.7M574.4 279.7L574.7 297.2M574.7 297.2L575.4 331.1M575.4 331.1L575.9 281.9M575.9 281.9L576.4 238.2M576.4 238.2L577.2 312.8M577.2 312.8L577.4 331.7M577.4 331.7L578 303.2M578 303.2L578.4 283M578.4 283L578.7 298.7M578.7 298.7L579.4 331.3M579.4 331.3L579.9 304.4M579.9 304.4L580.4 278.9M580.4 278.9L580.9 297.6M580.9 297.6L581.4 320.1M581.4 320.1L582.2 286M582.2 286L582.4 278.3M582.4 278.3L582.8 291.4M582.8 291.4L583.4 315.8M583.4 315.8L583.8 297.7M583.8 297.7L584.4 266M584.4 266L585 284.2M585 284.2L585.4 296.1M585.4 296.1L585.6 280.9M585.6 280.9L586.4 231.1M586.4 231.1L587 254.7M587 254.7L587.4 272.7M587.4 272.7L588.2 254.2M588.2 254.2L588.4 250.1M588.4 250.1L588.9 256.5M588.9 256.5L589.4 262.6M589.4 262.6L589.7 255.5M589.7 255.5L590.4 241.6M590.4 241.6L591.4 249.6M591.4 249.6L591.9 242.2M591.9 242.2L592.4 235.5M592.4 235.5L593.4 236.3M593.4 236.3L594.4 226.5M615 226.8L615.8 229.6M615.8 229.6L616.6 236.6M616.6 236.6L617.4 235.9M617.4 235.9L618.2 245.5M618.2 245.5L619 241.7M619 241.7L619.2 244.5M619.2 244.5L619.8 255M619.8 255L620.6 247.1M620.6 247.1L621.2 256.3M621.2 256.3L621.4 259.6M621.4 259.6L622.2 248.2M622.2 248.2L622.6 257.2M622.6 257.2L623 264.5M623 264.5L623.5 256.4M623.5 256.4L623.8 251.1M623.8 251.1L624 254.8M624 254.8L624.6 264M624.6 264L625.1 255.9M625.1 255.9L625.4 251.5M625.4 251.5L625.8 257.6M625.8 257.6L626.2 264.4M626.2 264.4L626.6 257M626.6 257L627 250.6M627 250.6L627.5 259.2M627.5 259.2L627.8 265.4M627.8 265.4L628.2 257.6M628.2 257.6L628.6 249.1M628.6 249.1L628.9 254.6M628.9 254.6L629.4 263.9M629.4 263.9L629.7 259.3M629.7 259.3L630.2 249.4M630.2 249.4L631 260.1M631 260.1L631.4 253.2M631.4 253.2L631.8 246.5M631.8 246.5L632.6 253.1M632.6 253.1L633 246.2M633 246.2L633.4 240.8M633.4 240.8L634.2 243.5M634.2 243.5L635 234M635 234L635.8 234M635.8 234L636.6 228.1" stroke="#f43f42" stroke-width="2.3" stroke-dasharray="10 4"/>
<path d="M123.8 287.6L124.1 172.6M136.4 242L136.7 201.5M142.7 232.7L143 217.8M184 260.6L184.3 196M178 244.6L178.3 204M238 251.1L238.3 222M296.6 278.4L296.9 222M421.7 238.1L422 195M527.2 229.1L527.5 220.7M570.6 280.1L570.9 181.6M567 279.3L567.3 200M576 282L576.3 208M584 275.9L584.3 215M589 227.5L589.3 222M623.8 240.2L624.1 225" stroke="#f43f42" stroke-width="2.3" stroke-dasharray="9 4"/>
<path d="M125 352.5L125.3 484M121 356.8L121.3 430M127.5 366.3L127.8 440M119 338.7L119.3 405M130 340.8L130.3 410M123 368.8L123.3 420M128.5 346.6L128.8 400M120.5 367.9L120.8 395M181.1 279.9L181.4 309M178.5 274.2L178.8 300M186 278L186.3 296M244.6 294.2L244.9 335M247.5 291.9L247.8 318M241 293.8L241.3 316M294.3 329.4L294.6 397M298.6 325.6L298.9 368M292 327.8L292.3 360M300 337L300.3 358M353.6 257.1L353.9 287M412.2 329.5L412.5 369M409 330.2L409.3 352M405 325.8L405.3 345M456 283.8L456.3 320M460 291L460.3 303M468 275.8L468.3 300M525.8 251.7L526.1 269.5M522.2 246.5L522.5 266M575 320.7L575.3 445M578 332.9L578.3 352M568 326.7L568.3 342M627.8 262.5L628.1 285" stroke="#f43f42" stroke-width="2.2" stroke-dasharray="14 7"/>
<path d="M87 226.5L89.3 225.6M89.3 225.6L91.5 223.2M91.5 223.2L93.8 220.5M93.8 220.5L96 218.8M96 218.8L98.3 218.6M98.3 218.6L100.6 219.5M100.6 219.5L102.8 221.2M102.8 221.2L105.1 223.7M105.1 223.7L107.3 226.7M107.3 226.7L109.6 229.9M109.6 229.9L111.9 233.2M111.9 233.2L114.1 236.3M134.5 229.5L135.1 228.5M135.1 228.5L137.3 224.2M137.3 224.2L139.6 220M139.6 220L141.8 216.2M141.8 216.2L144.1 213.2M144.1 213.2L146.4 211M146.4 211L148.6 209.9M148.6 209.9L150.9 209.8M150.9 209.8L153.1 211M153.1 211L155.4 213.2M155.4 213.2L157.7 216.3M157.7 216.3L159.9 220M159.9 220L162.2 224M183.7 227.3L184.3 226.6M184.3 226.6L186.5 223.9M186.5 223.9L188.8 221.6M188.8 221.6L191 219.9M191 219.9L193.3 218.9M193.3 218.9L195.6 218.8M195.6 218.8L197.8 219.8M197.8 219.8L200.1 222M200.1 222L202.3 225.1M202.3 225.1L204.6 228.7M204.6 228.7L206.9 232.6M230.6 227.4L231.2 226.3M231.2 226.3L233.5 221.8M233.5 221.8L235.7 217.7M235.7 217.7L238 214M238 214L240.2 211.2M240.2 211.2L242.5 209.2M242.5 209.2L244.8 208.3M244.8 208.3L247 208.5M247 208.5L249.3 210.2M249.3 210.2L251.5 213.2M251.5 213.2L253.8 217.2M253.8 217.2L256.1 221.9M256.1 221.9L258.3 226.9M282.7 227.4L283.2 226.5M283.2 226.5L285.5 223.1M285.5 223.1L287.7 220.5M287.7 220.5L290 218.9M290 218.9L292.3 218.4M292.3 218.4L294.5 219.2M294.5 219.2L296.8 221M296.8 221L299 223.9M299 223.9L301.3 227.4M301.3 227.4L303.6 231.3M303.6 231.3L305.8 235.2M326.8 226.9L327.3 225.7M327.3 225.7L329.6 220.6M329.6 220.6L331.8 215.9M331.8 215.9L334.1 211.9M334.1 211.9L336.4 208.9M336.4 208.9L338.6 207.1M338.6 207.1L340.9 206.6M340.9 206.6L343.1 207.5M343.1 207.5L345.4 209.5M345.4 209.5L347.7 212.5M347.7 212.5L349.9 216.4M349.9 216.4L352.2 220.8M352.2 220.8L354.4 225.5M377.7 229.3L378.2 228.3M378.2 228.3L380.5 224.5M380.5 224.5L382.7 221.3M382.7 221.3L385 219M385 219L387.3 218M387.3 218L389.5 218.2M389.5 218.2L391.8 219.8M391.8 219.8L394 222.6M394 222.6L396.3 226.2M422.9 223L423.5 221.7M423.5 221.7L425.7 216.6M425.7 216.6L428 212.1M428 212.1L430.2 208.7M430.2 208.7L432.5 206.5M432.5 206.5L434.8 205.8M434.8 205.8L437 206.6M437 206.6L439.3 209M439.3 209L441.5 212.6M441.5 212.6L443.8 217.2M443.8 217.2L446.1 222.4M472.7 228.1L473.2 227.2M473.2 227.2L475.5 224M475.5 224L477.8 221.2M477.8 221.2L480 219.2M480 219.2L482.3 218.1M482.3 218.1L484.5 218M484.5 218L486.8 219.4M486.8 219.4L489.1 222.3M489.1 222.3L491.3 226.2M517.9 221.3L518.5 220.1M518.5 220.1L520.7 215.5M520.7 215.5L523 211.5M523 211.5L525.3 208.3M525.3 208.3L527.5 206.1M527.5 206.1L529.8 205.1M529.8 205.1L532 205.4M532 205.4L534.3 207.1M534.3 207.1L536.6 210.2M536.6 210.2L538.8 214.4M538.8 214.4L541.1 219.3M541.1 219.3L543.3 224.6M564.8 233.3L565.4 232.4M565.4 232.4L567.7 228.4M567.7 228.4L569.9 224.5M569.9 224.5L572.2 221.1M572.2 221.1L574.5 218.4M574.5 218.4L576.7 216.8M576.7 216.8L579 216.3M579 216.3L581.2 217.3M581.2 217.3L583.5 219.9M583.5 219.9L585.8 223.7M585.8 223.7L588 228.2M611.8 222.2L612.4 220.7M612.4 220.7L614.6 215.4M614.6 215.4L616.9 210.8M616.9 210.8L619.1 207.4M619.1 207.4L621.4 205.4M621.4 205.4L623.7 205M623.7 205L625.9 205.9M625.9 205.9L628.2 207.9M628.2 207.9L630.4 210.8M630.4 210.8L632.7 214.5M632.7 214.5L635 218.7M635 218.7L637.2 223.4" stroke="#1b6ade" stroke-width="2.5" stroke-dasharray="3.3 0.9 1 0.9"/>
<path d="M114.1 236.3L114.7 237M114.7 237L115.3 238M115.3 238L115.8 237.9M115.8 237.9L116.4 238.8M116.4 238.8L117 237M117 237L117.5 240.6M117.5 240.6L118.1 242.8M118.1 242.8L118.6 241.8M118.6 241.8L119.2 234.1M119.2 234.1L119.8 243.6M119.8 243.6L120.3 243.6M120.3 243.6L120.9 242.1M120.9 242.1L121.5 246.5M121.5 246.5L122 242.1M122 242.1L122.6 238.7M122.6 238.7L123.2 241.6M123.2 241.6L123.7 236.4M123.7 236.4L124.3 242M124.3 242L124.9 232M124.9 232L125.4 241.8M125.4 241.8L126 244.5M126 244.5L126.6 243.2M126.6 243.2L127.1 236.3M127.1 236.3L127.7 241.1M127.7 241.1L128.3 233.4M128.3 233.4L128.8 240.2M128.8 240.2L129.4 236.5M129.4 236.5L130 238.5M130 238.5L130.5 237.4M130.5 237.4L131.1 234.3M131.1 234.3L131.7 233.7M131.7 233.7L132.2 234.2M132.2 234.2L132.8 232.9M132.8 232.9L133.4 231.6M133.4 231.6L133.9 230.6M133.9 230.6L134.5 229.5M162.2 224L162.7 224.9M162.7 224.9L163.3 225.9M163.3 225.9L163.9 226.9M163.9 226.9L164.4 226.6M164.4 226.6L165 228.6M165 228.6L165.6 231.2M165.6 231.2L166.1 229.7M166.1 229.7L166.7 231M166.7 231L167.3 230.5M167.3 230.5L167.8 229M167.8 229L168.4 232.3M168.4 232.3L169 234.5M169 234.5L169.5 234.1M169.5 234.1L170.1 231.5M170.1 231.5L170.7 233.7M170.7 233.7L171.2 235.7M171.2 235.7L171.8 233.8M171.8 233.8L172.4 236.5M172.4 236.5L172.9 237.1M172.9 237.1L173.5 239.3M173.5 239.3L174.1 234.9M174.1 234.9L174.6 239.9M174.6 239.9L175.2 234.3M175.2 234.3L175.8 239.5M175.8 239.5L176.3 234.1M176.3 234.1L176.9 231.5M176.9 231.5L177.5 232.1M177.5 232.1L178 232.3M178 232.3L178.6 231.4M178.6 231.4L179.2 235.7M179.2 235.7L179.7 231.2M179.7 231.2L180.3 228.4M180.3 228.4L180.9 230M180.9 230L181.4 228M181.4 228L182 229.4M182 229.4L182.6 228.7M182.6 228.7L183.1 228M183.1 228L183.7 227.3M206.9 232.6L207.4 231.6M207.4 231.6L208 234.2M208 234.2L208.6 232.9M208.6 232.9L209.1 236.2M209.1 236.2L209.7 233.5M209.7 233.5L210.3 236.5M210.3 236.5L210.8 234.1M210.8 234.1L211.4 237.9M211.4 237.9L212 235.1M212 235.1L212.5 241.2M212.5 241.2L213.1 245.6M213.1 245.6L213.6 242.9M213.6 242.9L214.2 239.5M214.2 239.5L214.8 245M214.8 245L215.3 245.8M215.3 245.8L215.9 241M215.9 241L216.5 249.6M216.5 249.6L217 244.7M217 244.7L217.6 238.2M217.6 238.2L218.2 243.4M218.2 243.4L218.7 250.6M218.7 250.6L219.3 243.5M219.3 243.5L219.9 249.5M219.9 249.5L220.4 241.1M220.4 241.1L221 234.7M221 234.7L221.6 239.7M221.6 239.7L222.1 246.6M222.1 246.6L222.7 240.9M222.7 240.9L223.3 241.4M223.3 241.4L223.8 240.2M223.8 240.2L224.4 242.2M224.4 242.2L225 238M225 238L225.5 236.8M225.5 236.8L226.1 234.4M226.1 234.4L226.7 235.3M226.7 235.3L227.2 234.3M227.2 234.3L227.8 234.7M227.8 234.7L228.4 231.7M228.4 231.7L228.9 231M228.9 231L229.5 229.6M229.5 229.6L230.1 228.5M230.1 228.5L230.6 227.4M258.3 226.9L258.9 228.2M258.9 228.2L259.4 228.9M259.4 228.9L260 230.2M260 230.2L260.6 229.4M260.6 229.4L261.1 231.8M261.1 231.8L261.7 228.3M261.7 228.3L262.3 235.7M262.3 235.7L262.8 232.2M262.8 232.2L263.4 237M263.4 237L264 230.1M264 230.1L264.5 237.6M264.5 237.6L265.1 242.6M265.1 242.6L265.7 240M265.7 240L266.2 245.5M266.2 245.5L266.8 240.2M266.8 240.2L267.4 242.5M267.4 242.5L267.9 242.4M267.9 242.4L268.5 246.8M268.5 246.8L269.1 240.6M269.1 240.6L269.6 250.1M269.6 250.1L270.2 243.5M270.2 243.5L270.8 244.8M270.8 244.8L271.3 239.8M271.3 239.8L271.9 243M271.9 243L272.5 240.6M272.5 240.6L273 234.8M273 234.8L273.6 242.3M273.6 242.3L274.2 243.1M274.2 243.1L274.7 238M274.7 238L275.3 245.7M275.3 245.7L275.9 237.4M275.9 237.4L276.4 228.9M276.4 228.9L277 237M277 237L277.6 232.5M277.6 232.5L278.1 233.7M278.1 233.7L278.7 234.4M278.7 234.4L279.3 234.1M279.3 234.1L279.8 229.5M279.8 229.5L280.4 230.9M280.4 230.9L281 230.5M281 230.5L281.5 229.3M281.5 229.3L282.1 228.4M282.1 228.4L282.7 227.4M305.8 235.2L306.4 236.1M306.4 236.1L306.9 236.9M306.9 236.9L307.5 238.2M307.5 238.2L308.1 241.1M308.1 241.1L308.6 239.5M308.6 239.5L309.2 235.9M309.2 235.9L309.8 240.5M309.8 240.5L310.3 244M310.3 244L310.9 240.1M310.9 240.1L311.5 238.9M311.5 238.9L312 242M312 242L312.6 247.9M312.6 247.9L313.2 242.1M313.2 242.1L313.7 237.4M313.7 237.4L314.3 243M314.3 243L314.9 237.9M314.9 237.9L315.4 245.4M315.4 245.4L316 233.1M316 233.1L316.6 245.5M316.6 245.5L317.1 238.6M317.1 238.6L317.7 240.3M317.7 240.3L318.3 236.9M318.3 236.9L318.8 240.1M318.8 240.1L319.4 245.5M319.4 245.5L320 239.5M320 239.5L320.5 241.3M320.5 241.3L321.1 237.6M321.1 237.6L321.7 228.2M321.7 228.2L322.2 235.1M322.2 235.1L322.8 238.5M322.8 238.5L323.4 233.5M323.4 233.5L323.9 230.5M323.9 230.5L324.5 231.8M324.5 231.8L325.1 230.7M325.1 230.7L325.6 229.4M325.6 229.4L326.2 228.2M326.2 228.2L326.8 226.9M354.4 225.5L355 226.7M355 226.7L355.6 227.8M355.6 227.8L356.1 229.2M356.1 229.2L356.7 230.9M356.7 230.9L357.3 230.2M357.3 230.2L357.8 234.6M357.8 234.6L358.4 233.4M358.4 233.4L359 225.6M359 225.6L359.5 236.2M359.5 236.2L360.1 239.3M360.1 239.3L360.7 235.3M360.7 235.3L361.2 240.5M361.2 240.5L361.8 240.2M361.8 240.2L362.4 245.2M362.4 245.2L362.9 239.3M362.9 239.3L363.5 230.8M363.5 230.8L364.1 239.2M364.1 239.2L364.6 245.9M364.6 245.9L365.2 239.3M365.2 239.3L365.8 245.5M365.8 245.5L366.3 239.5M366.3 239.5L366.9 244M366.9 244L367.5 240.9M367.5 240.9L368 241.2M368 241.2L368.6 240.2M368.6 240.2L369.2 245.4M369.2 245.4L369.7 242.2M369.7 242.2L370.3 235.9M370.3 235.9L370.9 241.5M370.9 241.5L371.4 237.7M371.4 237.7L372 238.3M372 238.3L372.6 234.9M372.6 234.9L373.1 237.4M373.1 237.4L373.7 235.7M373.7 235.7L374.3 234.8M374.3 234.8L374.8 235M374.8 235L375.4 233.7M375.4 233.7L376 232.5M376 232.5L376.5 231.3M376.5 231.3L377.1 230.3M377.1 230.3L377.7 229.3M396.3 226.2L396.9 227.2M396.9 227.2L397.4 228.2M397.4 228.2L398 229.2M398 229.2L398.6 228.6M398.6 228.6L399.1 230.9M399.1 230.9L399.7 233M399.7 233L400.3 234.5M400.3 234.5L400.8 231.8M400.8 231.8L401.4 235.1M401.4 235.1L402 238.3M402 238.3L402.5 236.9M402.5 236.9L403.1 238.6M403.1 238.6L403.7 237.1M403.7 237.1L404.2 228.6M404.2 228.6L404.8 242.1M404.8 242.1L405.4 248.3M405.4 248.3L405.9 240.9M405.9 240.9L406.5 246M406.5 246L407.1 240.3M407.1 240.3L407.6 237.9M407.6 237.9L408.2 242.4M408.2 242.4L408.7 236.7M408.7 236.7L409.3 242.7M409.3 242.7L409.9 234.1M409.9 234.1L410.4 242M410.4 242L411 248.6M411 248.6L411.6 242.6M411.6 242.6L412.1 243.8M412.1 243.8L412.7 244.1M412.7 244.1L413.3 230.1M413.3 230.1L413.8 238.9M413.8 238.9L414.4 244.9M414.4 244.9L415 237.6M415 237.6L415.5 227.9M415.5 227.9L416.1 236.8M416.1 236.8L416.7 239.9M416.7 239.9L417.2 234.9M417.2 234.9L417.8 237.6M417.8 237.6L418.4 234M418.4 234L418.9 230.6M418.9 230.6L419.5 231.4M419.5 231.4L420.1 232.2M420.1 232.2L420.6 227.9M420.6 227.9L421.2 227M421.2 227L421.8 225.7M421.8 225.7L422.3 224.3M422.3 224.3L422.9 223M446.1 222.4L446.6 223.7M446.6 223.7L447.2 225.1M447.2 225.1L447.8 226.4M447.8 226.4L448.3 228.6M448.3 228.6L448.9 229.7M448.9 229.7L449.5 227.7M449.5 227.7L450 231.6M450 231.6L450.6 228.6M450.6 228.6L451.2 234.7M451.2 234.7L451.7 239.3M451.7 239.3L452.3 235.5M452.3 235.5L452.9 229.1M452.9 229.1L453.4 236.4M453.4 236.4L454 239.9M454 239.9L454.6 237.8M454.6 237.8L455.1 241.1M455.1 241.1L455.7 243.1M455.7 243.1L456.3 245.9M456.3 245.9L456.8 239.8M456.8 239.8L457.4 245.5M457.4 245.5L458 242.1M458 242.1L458.5 232.8M458.5 232.8L459.1 243.4M459.1 243.4L459.6 248.9M459.6 248.9L460.2 240.4M460.2 240.4L460.8 236.1M460.8 236.1L461.3 241.3M461.3 241.3L461.9 238.1M461.9 238.1L462.5 240M462.5 240L463 243.6M463 243.6L463.6 239.6M463.6 239.6L464.2 243.1M464.2 243.1L464.7 238.1M464.7 238.1L465.3 245.7M465.3 245.7L465.9 236.5M465.9 236.5L466.4 241.7M466.4 241.7L467 238M467 238L467.6 232.2M467.6 232.2L468.1 234.1M468.1 234.1L468.7 238.7M468.7 238.7L469.3 233.1M469.3 233.1L469.8 231.5M469.8 231.5L470.4 231.9M470.4 231.9L471 230.5M471 230.5L471.5 229.8M471.5 229.8L472.1 229M472.1 229L472.7 228.1M491.3 226.2L491.9 227.3M491.9 227.3L492.4 228.4M492.4 228.4L493 229.5M493 229.5L493.6 229.5M493.6 229.5L494.1 231.3M494.1 231.3L494.7 234.5M494.7 234.5L495.3 233.3M495.3 233.3L495.8 228.7M495.8 228.7L496.4 235.1M496.4 235.1L497 229.7M497 229.7L497.5 238.1M497.5 238.1L498.1 232.4M498.1 232.4L498.7 239.8M498.7 239.8L499.2 237.5M499.2 237.5L499.8 241.7M499.8 241.7L500.4 236.1M500.4 236.1L500.9 243.9M500.9 243.9L501.5 244.4M501.5 244.4L502.1 242M502.1 242L502.6 247.6M502.6 247.6L503.2 241M503.2 241L503.8 241.1M503.8 241.1L504.3 244.3M504.3 244.3L504.9 245.3M504.9 245.3L505.5 243.7M505.5 243.7L506 238.7M506 238.7L506.6 241.2M506.6 241.2L507.2 242.8M507.2 242.8L507.7 240.4M507.7 240.4L508.3 240.5M508.3 240.5L508.9 237.5M508.9 237.5L509.4 239.4M509.4 239.4L510 236.8M510 236.8L510.6 239M510.6 239L511.1 233.6M511.1 233.6L511.7 238.4M511.7 238.4L512.3 231.5M512.3 231.5L512.8 226.6M512.8 226.6L513.4 231.1M513.4 231.1L514 225.8M514 225.8L514.5 227.9M514.5 227.9L515.1 228.9M515.1 228.9L515.7 225.8M515.7 225.8L516.2 224.9M516.2 224.9L516.8 223.7M516.8 223.7L517.3 222.5M517.3 222.5L517.9 221.3M543.3 224.6L543.9 225.9M543.9 225.9L544.5 226.9M544.5 226.9L545 229.4M545 229.4L545.6 228.9M545.6 228.9L546.2 233.6M546.2 233.6L546.7 230.8M546.7 230.8L547.3 234.5M547.3 234.5L547.9 235.8M547.9 235.8L548.4 237.3M548.4 237.3L549 237.1M549 237.1L549.6 230.3M549.6 230.3L550.1 238.1M550.1 238.1L550.7 234.3M550.7 234.3L551.3 237.6M551.3 237.6L551.8 243.5M551.8 243.5L552.4 242.4M552.4 242.4L553 245M553 245L553.5 241.8M553.5 241.8L554.1 234.3M554.1 234.3L554.7 240.4M554.7 240.4L555.2 243.5M555.2 243.5L555.8 243.1M555.8 243.1L556.4 245.5M556.4 245.5L556.9 242.3M556.9 242.3L557.5 242.9M557.5 242.9L558.1 243.6M558.1 243.6L558.6 245.1M558.6 245.1L559.2 241.7M559.2 241.7L559.8 234.2M559.8 234.2L560.3 239.8M560.3 239.8L560.9 241.4M560.9 241.4L561.5 239.1M561.5 239.1L562 236.7M562 236.7L562.6 237.2M562.6 237.2L563.2 236.1M563.2 236.1L563.7 235.2M563.7 235.2L564.3 234.3M564.3 234.3L564.8 233.3M588 228.2L588.6 229.4M588.6 229.4L589.1 230.8M589.1 230.8L589.7 232.2M589.7 232.2L590.3 234.8M590.3 234.8L590.8 233.5M590.8 233.5L591.4 236.3M591.4 236.3L592 235M592 235L592.5 228.8M592.5 228.8L593.1 239M593.1 239L593.7 233.1M593.7 233.1L594.2 238.5M594.2 238.5L594.8 243.8M594.8 243.8L595.4 243.2M595.4 243.2L595.9 248.3M595.9 248.3L596.5 240.7M596.5 240.7L597.1 248.7M597.1 248.7L597.6 244.7M597.6 244.7L598.2 246.9M598.2 246.9L598.8 242.8M598.8 242.8L599.3 240.7M599.3 240.7L599.9 244.6M599.9 244.6L600.5 243.6M600.5 243.6L601 243.4M601 243.4L601.6 249.7M601.6 249.7L602.2 240.9M602.2 240.9L602.7 235.3M602.7 235.3L603.3 240.9M603.3 240.9L603.9 245M603.9 245L604.4 237.2M604.4 237.2L605 237.7M605 237.7L605.6 234.8M605.6 234.8L606.1 231M606.1 231L606.7 233.5M606.7 233.5L607.3 234.8M607.3 234.8L607.8 232.2M607.8 232.2L608.4 225.7M608.4 225.7L609 228.8M609 228.8L609.5 225.7M609.5 225.7L610.1 226.4M610.1 226.4L610.7 225M610.7 225L611.2 223.6M611.2 223.6L611.8 222.2M637.2 223.4L637.8 224.6M637.8 224.6L638.3 225.8M638.3 225.8L638.9 227M638.9 227L639.5 229.6M639.5 229.6L640 228.8M640 228.8L640.6 231.6M640.6 231.6L641.2 231.1M641.2 231.1L641.7 225.1M641.7 225.1L642.3 234.8M642.3 234.8L642.9 235.1M642.9 235.1L643.4 236.1M643.4 236.1L644 233.7M644 233.7L644.6 239.2M644.6 239.2L645.1 243.1M645.1 243.1L645.7 237.9M645.7 237.9L646.3 243.2M646.3 243.2L646.8 241.9M646.8 241.9L647.4 238.2M647.4 238.2L648 241.6M648 241.6L648.5 246.5M648.5 246.5L649.1 244.6M649.1 244.6L649.7 246.7M649.7 246.7L650.2 244.4M650.2 244.4L650.8 247.4M650.8 247.4L651.4 244M651.4 244L651.9 242.1M651.9 242.1L652.5 245.9M652.5 245.9L653.1 246.3" stroke="#1b6ade" stroke-width="2.3"/>
</g></g></svg>
<path d="M87 9 H681.5 V487.5 H87 Z" fill="none" stroke="#1a1a1a" stroke-width="2"/>
<path d="M143.62 487.5 V483.00 M143.62 9 V13.50" stroke="#1a1a1a" stroke-width="1.6"/>
<path d="M200.24 487.5 V478.50 M200.24 9 V18.00" stroke="#1a1a1a" stroke-width="2"/>
<path d="M256.86 487.5 V483.00 M256.86 9 V13.50" stroke="#1a1a1a" stroke-width="1.6"/>
<path d="M313.48 487.5 V478.50 M313.48 9 V18.00" stroke="#1a1a1a" stroke-width="2"/>
<path d="M370.10 487.5 V483.00 M370.10 9 V13.50" stroke="#1a1a1a" stroke-width="1.6"/>
<path d="M426.71 487.5 V478.50 M426.71 9 V18.00" stroke="#1a1a1a" stroke-width="2"/>
<path d="M483.33 487.5 V483.00 M483.33 9 V13.50" stroke="#1a1a1a" stroke-width="1.6"/>
<path d="M539.95 487.5 V478.50 M539.95 9 V18.00" stroke="#1a1a1a" stroke-width="2"/>
<path d="M596.57 487.5 V483.00 M596.57 9 V13.50" stroke="#1a1a1a" stroke-width="1.6"/>
<path d="M653.19 487.5 V478.50 M653.19 9 V18.00" stroke="#1a1a1a" stroke-width="2"/>
<path d="M87 480.60 H91.50 M681.5 480.60 H677.00" stroke="#1a1a1a" stroke-width="1.6"/>
<path d="M87 444.30 H96.00 M681.5 444.30 H672.50" stroke="#1a1a1a" stroke-width="2"/>
<path d="M87 408.00 H91.50 M681.5 408.00 H677.00" stroke="#1a1a1a" stroke-width="1.6"/>
<path d="M87 371.70 H96.00 M681.5 371.70 H672.50" stroke="#1a1a1a" stroke-width="2"/>
<path d="M87 335.40 H91.50 M681.5 335.40 H677.00" stroke="#1a1a1a" stroke-width="1.6"/>
<path d="M87 299.10 H96.00 M681.5 299.10 H672.50" stroke="#1a1a1a" stroke-width="2"/>
<path d="M87 262.80 H91.50 M681.5 262.80 H677.00" stroke="#1a1a1a" stroke-width="1.6"/>
<path d="M87 226.50 H96.00 M681.5 226.50 H672.50" stroke="#1a1a1a" stroke-width="2"/>
<path d="M87 190.20 H91.50 M681.5 190.20 H677.00" stroke="#1a1a1a" stroke-width="1.6"/>
<path d="M87 153.90 H96.00 M681.5 153.90 H672.50" stroke="#1a1a1a" stroke-width="2"/>
<path d="M87 117.60 H91.50 M681.5 117.60 H677.00" stroke="#1a1a1a" stroke-width="1.6"/>
<path d="M87 81.30 H96.00 M681.5 81.30 H672.50" stroke="#1a1a1a" stroke-width="2"/>
<path d="M87 45.00 H91.50 M681.5 45.00 H677.00" stroke="#1a1a1a" stroke-width="1.6"/>
<path d="M385.5 49.3 H442.4" stroke="#4a4a4a" stroke-width="2"/>
<path d="M385.5 89.9 H442.4" stroke="#f43f42" stroke-width="2.4" stroke-dasharray="12.5 11"/>
<path d="M385.5 129.6 H442.4" stroke="#1b6ade" stroke-width="2.4" stroke-dasharray="14 7 2.4 7"/>
<text class="lg" x="448.6" y="57.6">k<tspan font-size="16" dy="6">1</tspan><tspan dy="-6">=2.9×10</tspan><tspan font-size="17.5" dy="-10">9</tspan><tspan dy="10">N/m</tspan></text>
<text class="lg" x="448.6" y="97.6">k<tspan font-size="16" dy="6">1</tspan><tspan dy="-6">=1.45×10</tspan><tspan font-size="17.5" dy="-10">9</tspan><tspan dy="10">N/m</tspan></text>
<text class="lg" x="448.6" y="137.8">k<tspan font-size="16" dy="6">1</tspan><tspan dy="-6">=5.8×10</tspan><tspan font-size="17.5" dy="-10">9</tspan><tspan dy="10">N/m</tspan></text>
<text class="tk" x="87.00" y="515.3" text-anchor="middle">200</text>
<text class="tk" x="200.24" y="515.3" text-anchor="middle">220</text>
<text class="tk" x="313.48" y="515.3" text-anchor="middle">240</text>
<text class="tk" x="426.71" y="515.3" text-anchor="middle">260</text>
<text class="tk" x="539.95" y="515.3" text-anchor="middle">280</text>
<text class="tk" x="653.19" y="515.3" text-anchor="middle">300</text>
<text class="tk" x="76.8" y="16.90" text-anchor="end">1. 5</text>
<text class="tk" x="76.8" y="89.50" text-anchor="end">1. 0</text>
<text class="tk" x="76.8" y="162.10" text-anchor="end">0. 5</text>
<text class="tk" x="76.8" y="234.70" text-anchor="end">0. 0</text>
<text class="tk" x="76.8" y="307.30" text-anchor="end"><tspan font-size="18">−</tspan><tspan dx="-0.5">0. 5</tspan></text>
<text class="tk" x="76.8" y="379.90" text-anchor="end"><tspan font-size="18">−</tspan><tspan dx="-0.5">1. 0</tspan></text>
<text class="tk" x="76.8" y="452.50" text-anchor="end"><tspan font-size="18">−</tspan><tspan dx="-0.5">1. 5</tspan></text>
<text class="tt" x="325" y="549.8">Time<tspan dx="25.6">ms</tspan></text>
<path d="M401 531.2 Q389.6 540.8 401.3 550.3" fill="none" stroke="#111" stroke-width="1.8"/>
<path d="M436.8 533.2 Q447 543.5 437.2 553.8" fill="none" stroke="#111" stroke-width="1.8"/>
<text class="tt" style="font-size:25.1px" transform="translate(23.8 448.6) rotate(-90)">Shell acceleration Amplitude<tspan dx="24.7">mm/ms</tspan><tspan font-size="16" font-weight="normal" dy="-11">2</tspan></text>
<path d="M5.4 119.6 Q14.8 132.6 24.2 119.3" fill="none" stroke="#111" stroke-width="1.8"/>
<path d="M5.4 24.3 Q14.8 11.6 24.2 24.8" fill="none" stroke="#111" stroke-width="1.8"/>
</svg>
</body></html>
